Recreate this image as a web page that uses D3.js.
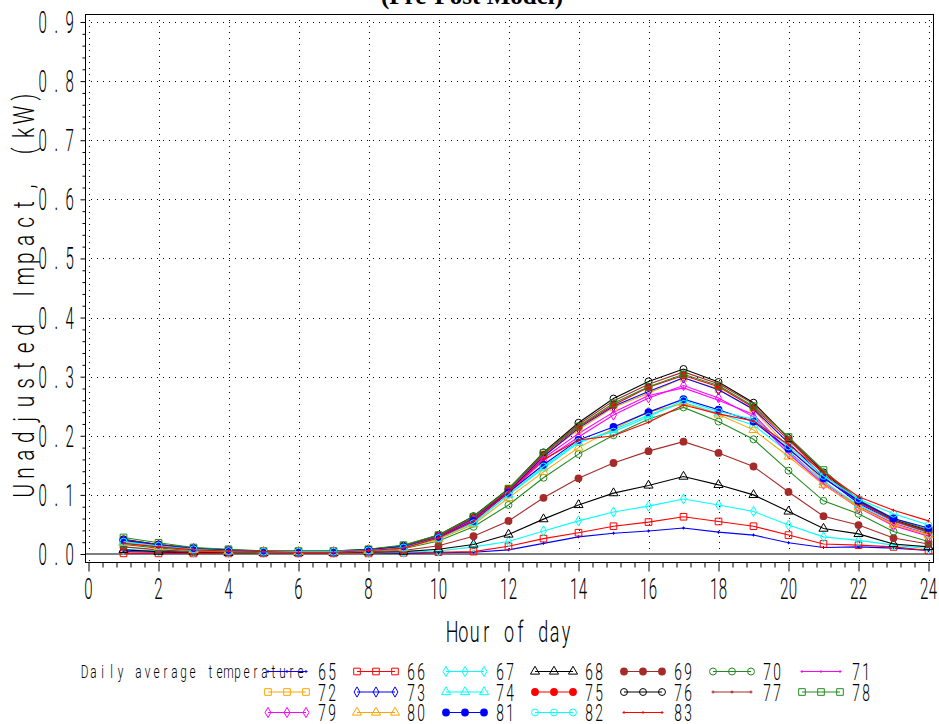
<!DOCTYPE html>
<html>
<head>
<meta charset="utf-8">
<script src="https://cdn.jsdelivr.net/npm/d3@7"></script>
<style>
  body { margin: 0; background: #fff; }
  svg { display: block; }
</style>
</head>
<body>
<div id="chart"></div>
<script>
// hour of day (x) and daily average temperature (series)
var hours = [1, 2, 3, 4, 5, 6, 7, 8, 9, 10, 11, 12, 13, 14, 15, 16, 17, 18, 19, 20, 21, 22, 23, 24];
var temps = [65, 66, 67, 68, 69, 70, 71, 72, 73, 74, 75, 76, 77, 78, 79, 80, 81, 82, 83];

// unadjusted impact (kW) per hour, one array per temperature
var impact65 = [0.004, 0.003, 0.002, 0.002, 0.001, 0.001, 0.001, 0.001, 0.001, 0.002, 0.003, 0.007, 0.018, 0.029, 0.035, 0.039, 0.044, 0.037, 0.032, 0.019, 0.011, 0.012, 0.010, 0.006];
var impact66 = [0.001, 0.001, 0.001, 0.001, 0.001, 0.001, 0.001, 0.001, 0.002, 0.003, 0.004, 0.013, 0.026, 0.036, 0.047, 0.054, 0.063, 0.055, 0.047, 0.032, 0.017, 0.015, 0.012, 0.006];
var impact67 = [0.008, 0.005, 0.003, 0.002, 0.002, 0.002, 0.002, 0.002, 0.003, 0.005, 0.012, 0.021, 0.039, 0.056, 0.071, 0.081, 0.093, 0.083, 0.072, 0.049, 0.029, 0.023, 0.015, 0.009];
var impact68 = [0.007, 0.004, 0.003, 0.002, 0.002, 0.002, 0.002, 0.003, 0.004, 0.008, 0.016, 0.033, 0.059, 0.083, 0.103, 0.116, 0.131, 0.117, 0.100, 0.072, 0.043, 0.034, 0.017, 0.012];
var impact69 = [0.012, 0.007, 0.004, 0.003, 0.002, 0.002, 0.002, 0.004, 0.006, 0.014, 0.030, 0.056, 0.095, 0.128, 0.154, 0.174, 0.190, 0.171, 0.148, 0.105, 0.064, 0.049, 0.027, 0.017];
var impact70 = [0.016, 0.010, 0.006, 0.004, 0.003, 0.003, 0.003, 0.005, 0.009, 0.022, 0.046, 0.083, 0.129, 0.169, 0.201, 0.228, 0.248, 0.224, 0.194, 0.141, 0.090, 0.068, 0.038, 0.021];
var impact71 = [0.021, 0.014, 0.008, 0.005, 0.004, 0.004, 0.004, 0.006, 0.011, 0.028, 0.058, 0.106, 0.162, 0.204, 0.240, 0.268, 0.281, 0.260, 0.236, 0.174, 0.121, 0.081, 0.052, 0.034];
var impact72 = [0.024, 0.016, 0.009, 0.006, 0.004, 0.004, 0.004, 0.007, 0.013, 0.031, 0.062, 0.111, 0.166, 0.210, 0.248, 0.272, 0.298, 0.279, 0.244, 0.180, 0.124, 0.080, 0.050, 0.032];
var impact73 = [0.022, 0.015, 0.009, 0.006, 0.004, 0.004, 0.004, 0.007, 0.012, 0.029, 0.060, 0.106, 0.165, 0.213, 0.250, 0.275, 0.298, 0.278, 0.245, 0.188, 0.130, 0.086, 0.055, 0.038];
var impact74 = [0.020, 0.013, 0.008, 0.005, 0.004, 0.004, 0.004, 0.006, 0.011, 0.026, 0.054, 0.100, 0.145, 0.188, 0.210, 0.235, 0.256, 0.238, 0.218, 0.172, 0.122, 0.083, 0.055, 0.035];
var impact75 = [0.023, 0.015, 0.009, 0.006, 0.004, 0.004, 0.004, 0.007, 0.012, 0.030, 0.061, 0.108, 0.168, 0.215, 0.252, 0.282, 0.302, 0.283, 0.248, 0.193, 0.135, 0.088, 0.056, 0.037];
var impact76 = [0.025, 0.016, 0.010, 0.007, 0.005, 0.005, 0.005, 0.008, 0.014, 0.032, 0.064, 0.110, 0.172, 0.222, 0.263, 0.292, 0.313, 0.291, 0.256, 0.196, 0.138, 0.090, 0.058, 0.040];
var impact77 = [0.024, 0.016, 0.010, 0.006, 0.005, 0.004, 0.004, 0.007, 0.013, 0.031, 0.062, 0.109, 0.170, 0.219, 0.259, 0.287, 0.308, 0.288, 0.254, 0.197, 0.140, 0.091, 0.057, 0.038];
var impact78 = [0.028, 0.019, 0.011, 0.008, 0.005, 0.005, 0.005, 0.008, 0.015, 0.032, 0.063, 0.110, 0.171, 0.216, 0.255, 0.283, 0.304, 0.285, 0.250, 0.198, 0.142, 0.092, 0.060, 0.041];
var impact79 = [0.022, 0.014, 0.008, 0.005, 0.004, 0.004, 0.004, 0.006, 0.011, 0.028, 0.057, 0.103, 0.158, 0.198, 0.235, 0.264, 0.285, 0.264, 0.232, 0.170, 0.118, 0.078, 0.048, 0.030];
var impact80 = [0.019, 0.012, 0.007, 0.005, 0.004, 0.004, 0.004, 0.006, 0.010, 0.025, 0.050, 0.095, 0.139, 0.180, 0.212, 0.240, 0.255, 0.236, 0.210, 0.165, 0.117, 0.079, 0.050, 0.032];
var impact81 = [0.023, 0.015, 0.009, 0.006, 0.004, 0.004, 0.004, 0.007, 0.012, 0.028, 0.056, 0.104, 0.151, 0.193, 0.215, 0.240, 0.262, 0.244, 0.224, 0.178, 0.128, 0.090, 0.060, 0.044];
var impact82 = [0.021, 0.014, 0.008, 0.005, 0.004, 0.004, 0.004, 0.006, 0.011, 0.027, 0.052, 0.100, 0.148, 0.190, 0.207, 0.232, 0.260, 0.241, 0.228, 0.182, 0.132, 0.093, 0.068, 0.049];
var impact83 = [0.018, 0.012, 0.007, 0.005, 0.004, 0.003, 0.003, 0.006, 0.010, 0.027, 0.055, 0.105, 0.160, 0.193, 0.200, 0.223, 0.252, 0.237, 0.225, 0.185, 0.138, 0.097, 0.074, 0.056];

var xTicks = [0, 2, 4, 6, 8, 10, 12, 14, 16, 18, 20, 22, 24];
var yTicks = [0, 0.1, 0.2, 0.3, 0.4, 0.5, 0.6, 0.7, 0.8, 0.9];

var impacts = [impact65, impact66, impact67, impact68, impact69, impact70, impact71, impact72, impact73, impact74,
               impact75, impact76, impact77, impact78, impact79, impact80, impact81, impact82, impact83];

// SAS style colours / symbols, in temperature order
var colors = ['#0000ff', '#ff0000', '#00ffff', '#000000', '#a52a2a', '#228b22', '#ff00ff', '#ffa500', '#0000ff', '#00ffff',
              '#ff0000', '#000000', '#a52a2a', '#228b22', '#ff00ff', '#ffa500', '#0000ff', '#00ffff', '#ff0000'];
var symbols = ['none', 'square', 'diamond', 'triangle', 'dot', 'circle'];

var series = temps.map(function (t, i) {
    return {
        temp: t,
        color: colors[i],
        symbol: symbols[i % 6],
        values: hours.map(function (h, j) { return { hour: h, value: impacts[i][j] }; })
    };
});

var width = 939, height = 724;
var frame = { left: 85, top: 14, right: 933, bottom: 562 };
var font = 'Roboto, Lato, Inter, sans-serif';

var svg = d3.select('#chart').append('svg')
    .attr('width', width)
    .attr('height', height);

var x = d3.scaleLinear().domain([0, 24]).range([88.5, 928.5]);
var y = d3.scaleLinear().domain([0, 0.9]).range([554, 22]);

/**
 * Monospaced, condensed text like the SAS hardware font: each char sits in its own cell
 */
function monoText(parent, str, px, py, o) {
    var w = str.length * o.pitch;
    var x0 = o.anchor === 'middle' ? -w / 2 : (o.anchor === 'end' ? -w : 0);
    var tr = 'translate(' + px + ',' + py + ')' + (o.rotate ? ' rotate(' + o.rotate + ')' : '') + ' scale(' + o.sx + ',1)';
    var t = parent.append('text')
        .attr('transform', tr)
        .attr('font-family', font)
        .attr('font-weight', 300)
        .attr('font-size', o.size)
        .attr('fill', '#000')
        .attr('text-anchor', 'middle');
    t.selectAll('tspan')
        .data(str.split(''))
        .enter().append('tspan')
        .attr('x', function (d, i) { return (x0 + i * o.pitch + o.pitch / 2) / o.sx; })
        .text(function (d) { return d; });
    return t;
}

// title (cut off at the top of the picture)
svg.append('text')
    .attr('x', 472).attr('y', 4)
    .attr('text-anchor', 'middle')
    .attr('font-family', '"Liberation Serif", serif')
    .attr('font-weight', 'bold')
    .attr('font-size', 25)
    .text('(Pre-Post Model)');

// dotted grid
var grid = svg.append('g').attr('stroke', '#000').attr('stroke-width', 1).attr('stroke-dasharray', '1,5');
grid.selectAll('line.v').data(xTicks).enter().append('line')
    .attr('x1', function (d) { return Math.round(x(d)) + 0.5; })
    .attr('x2', function (d) { return Math.round(x(d)) + 0.5; })
    .attr('y1', frame.top).attr('y2', frame.bottom);
grid.selectAll('line.h').data(yTicks.slice(1)).enter().append('line')
    .attr('y1', function (d) { return Math.round(y(d)) + 0.5; })
    .attr('y2', function (d) { return Math.round(y(d)) + 0.5; })
    .attr('x1', frame.left).attr('x2', frame.right);

// reference line at 0
svg.append('line')
    .attr('x1', frame.left).attr('x2', frame.right)
    .attr('y1', y(0)).attr('y2', y(0))
    .attr('stroke', '#7f7f7f').attr('stroke-width', 2);

// frame
svg.append('rect')
    .attr('x', frame.left + 0.5).attr('y', frame.top + 0.5)
    .attr('width', frame.right - frame.left).attr('height', frame.bottom - frame.top)
    .attr('fill', 'none').attr('stroke', '#000').attr('stroke-width', 1);

// x axis ticks (major + 4 minor)
var xMinor = d3.range(0, 24.01, 0.4).filter(function (d) { return Math.abs(d / 2 - Math.round(d / 2)) > 0.01; });
svg.append('g')
    .attr('transform', 'translate(0,' + (frame.bottom + 0.5) + ')')
    .call(d3.axisBottom(x).tickValues(xTicks).tickSize(9).tickFormat('').tickSizeOuter(0))
    .call(function (g) { g.select('.domain').remove(); });
svg.append('g')
    .attr('transform', 'translate(0,' + (frame.bottom + 0.5) + ')')
    .call(d3.axisBottom(x).tickValues(xMinor).tickSize(5).tickFormat('').tickSizeOuter(0))
    .call(function (g) { g.select('.domain').remove(); });

// y axis ticks
var yMinor = d3.range(0, 0.901, 0.02).filter(function (d) { return Math.abs(d * 10 - Math.round(d * 10)) > 0.01; });
svg.append('g')
    .attr('transform', 'translate(' + (frame.left + 0.5) + ',0)')
    .call(d3.axisLeft(y).tickValues(yTicks).tickSize(5).tickFormat('').tickSizeOuter(0))
    .call(function (g) { g.select('.domain').remove(); });
svg.append('g')
    .attr('transform', 'translate(' + (frame.left + 0.5) + ',0)')
    .call(d3.axisLeft(y).tickValues(yMinor).tickSize(3).tickFormat('').tickSizeOuter(0))
    .call(function (g) { g.select('.domain').remove(); });

// tick labels
xTicks.forEach(function (d) {
    monoText(svg, String(d), x(d), 599, { size: 30, pitch: 8.6, sx: 0.5, anchor: 'middle' });
});
yTicks.forEach(function (d) {
    monoText(svg, d.toFixed(1), 76.5, y(d) + 11, { size: 32, pitch: 13.5, sx: 0.47, anchor: 'end' });
});

// axis titles
monoText(svg, 'Hour of day', 509, 642, { size: 30, pitch: 11.4, sx: 0.6, anchor: 'middle' });
monoText(svg, 'Unadjusted Impact, (kW)', 34, 294, { size: 30, pitch: 17.9, sx: 0.7, anchor: 'middle', rotate: -90 });

/**
 * Plot symbols
 */
function symbolPath(sym) {
    var type = { square: d3.symbolSquare, diamond: d3.symbolDiamond, triangle: d3.symbolTriangle, dot: d3.symbolCircle, circle: d3.symbolCircle, none: d3.symbolCross }[sym];
    var size = { square: 44, diamond: 30, triangle: 36, dot: 48, circle: 38, none: 5 }[sym];
    return d3.symbol().type(type).size(size)();
}
function drawMarks(g, s, pts) {
    g.selectAll('path.mk').data(pts).enter().append('path')
        .attr('class', 'mk')
        .attr('transform', function (p) { return 'translate(' + p[0] + ',' + p[1] + ')'; })
        .attr('d', symbolPath(s.symbol))
        .attr('fill', (s.symbol === 'dot' || s.symbol === 'none') ? s.color : 'none')
        .attr('stroke', (s.symbol === 'dot' || s.symbol === 'none') ? 'none' : s.color)
        .attr('stroke-width', 1);
}

var line = d3.line()
    .x(function (d) { return x(d.hour); })
    .y(function (d) { return y(d.value); });

var plot = svg.append('g');
series.forEach(function (s) {
    var g = plot.append('g');
    g.append('path')
        .datum(s.values)
        .attr('d', line)
        .attr('fill', 'none')
        .attr('stroke', s.color)
        .attr('stroke-width', 1.1);
    drawMarks(g, s, s.values.map(function (d) { return [x(d.hour), y(d.value)]; }));
});

// legend
var legend = svg.append('g');
monoText(legend, 'Daily average temperature', 80, 678, { size: 19, pitch: 9, sx: 0.62, anchor: 'start' });
series.forEach(function (s, i) {
    var row = Math.floor(i / 7), col = i % 7;
    var lx = 268 + col * 89, ly = 671.5 + row * 20.5;
    var g = legend.append('g');
    g.append('line')
        .attr('x1', lx).attr('x2', lx + 38)
        .attr('y1', ly).attr('y2', ly)
        .attr('stroke', s.color).attr('stroke-width', 1.1);
    drawMarks(g, s, [[lx, ly], [lx + 19, ly], [lx + 38, ly]]);
    monoText(g, String(s.temp), lx + 49, ly + 8.5, { size: 23, pitch: 10, sx: 0.6, anchor: 'start' });
});
</script>
</body>
</html>
